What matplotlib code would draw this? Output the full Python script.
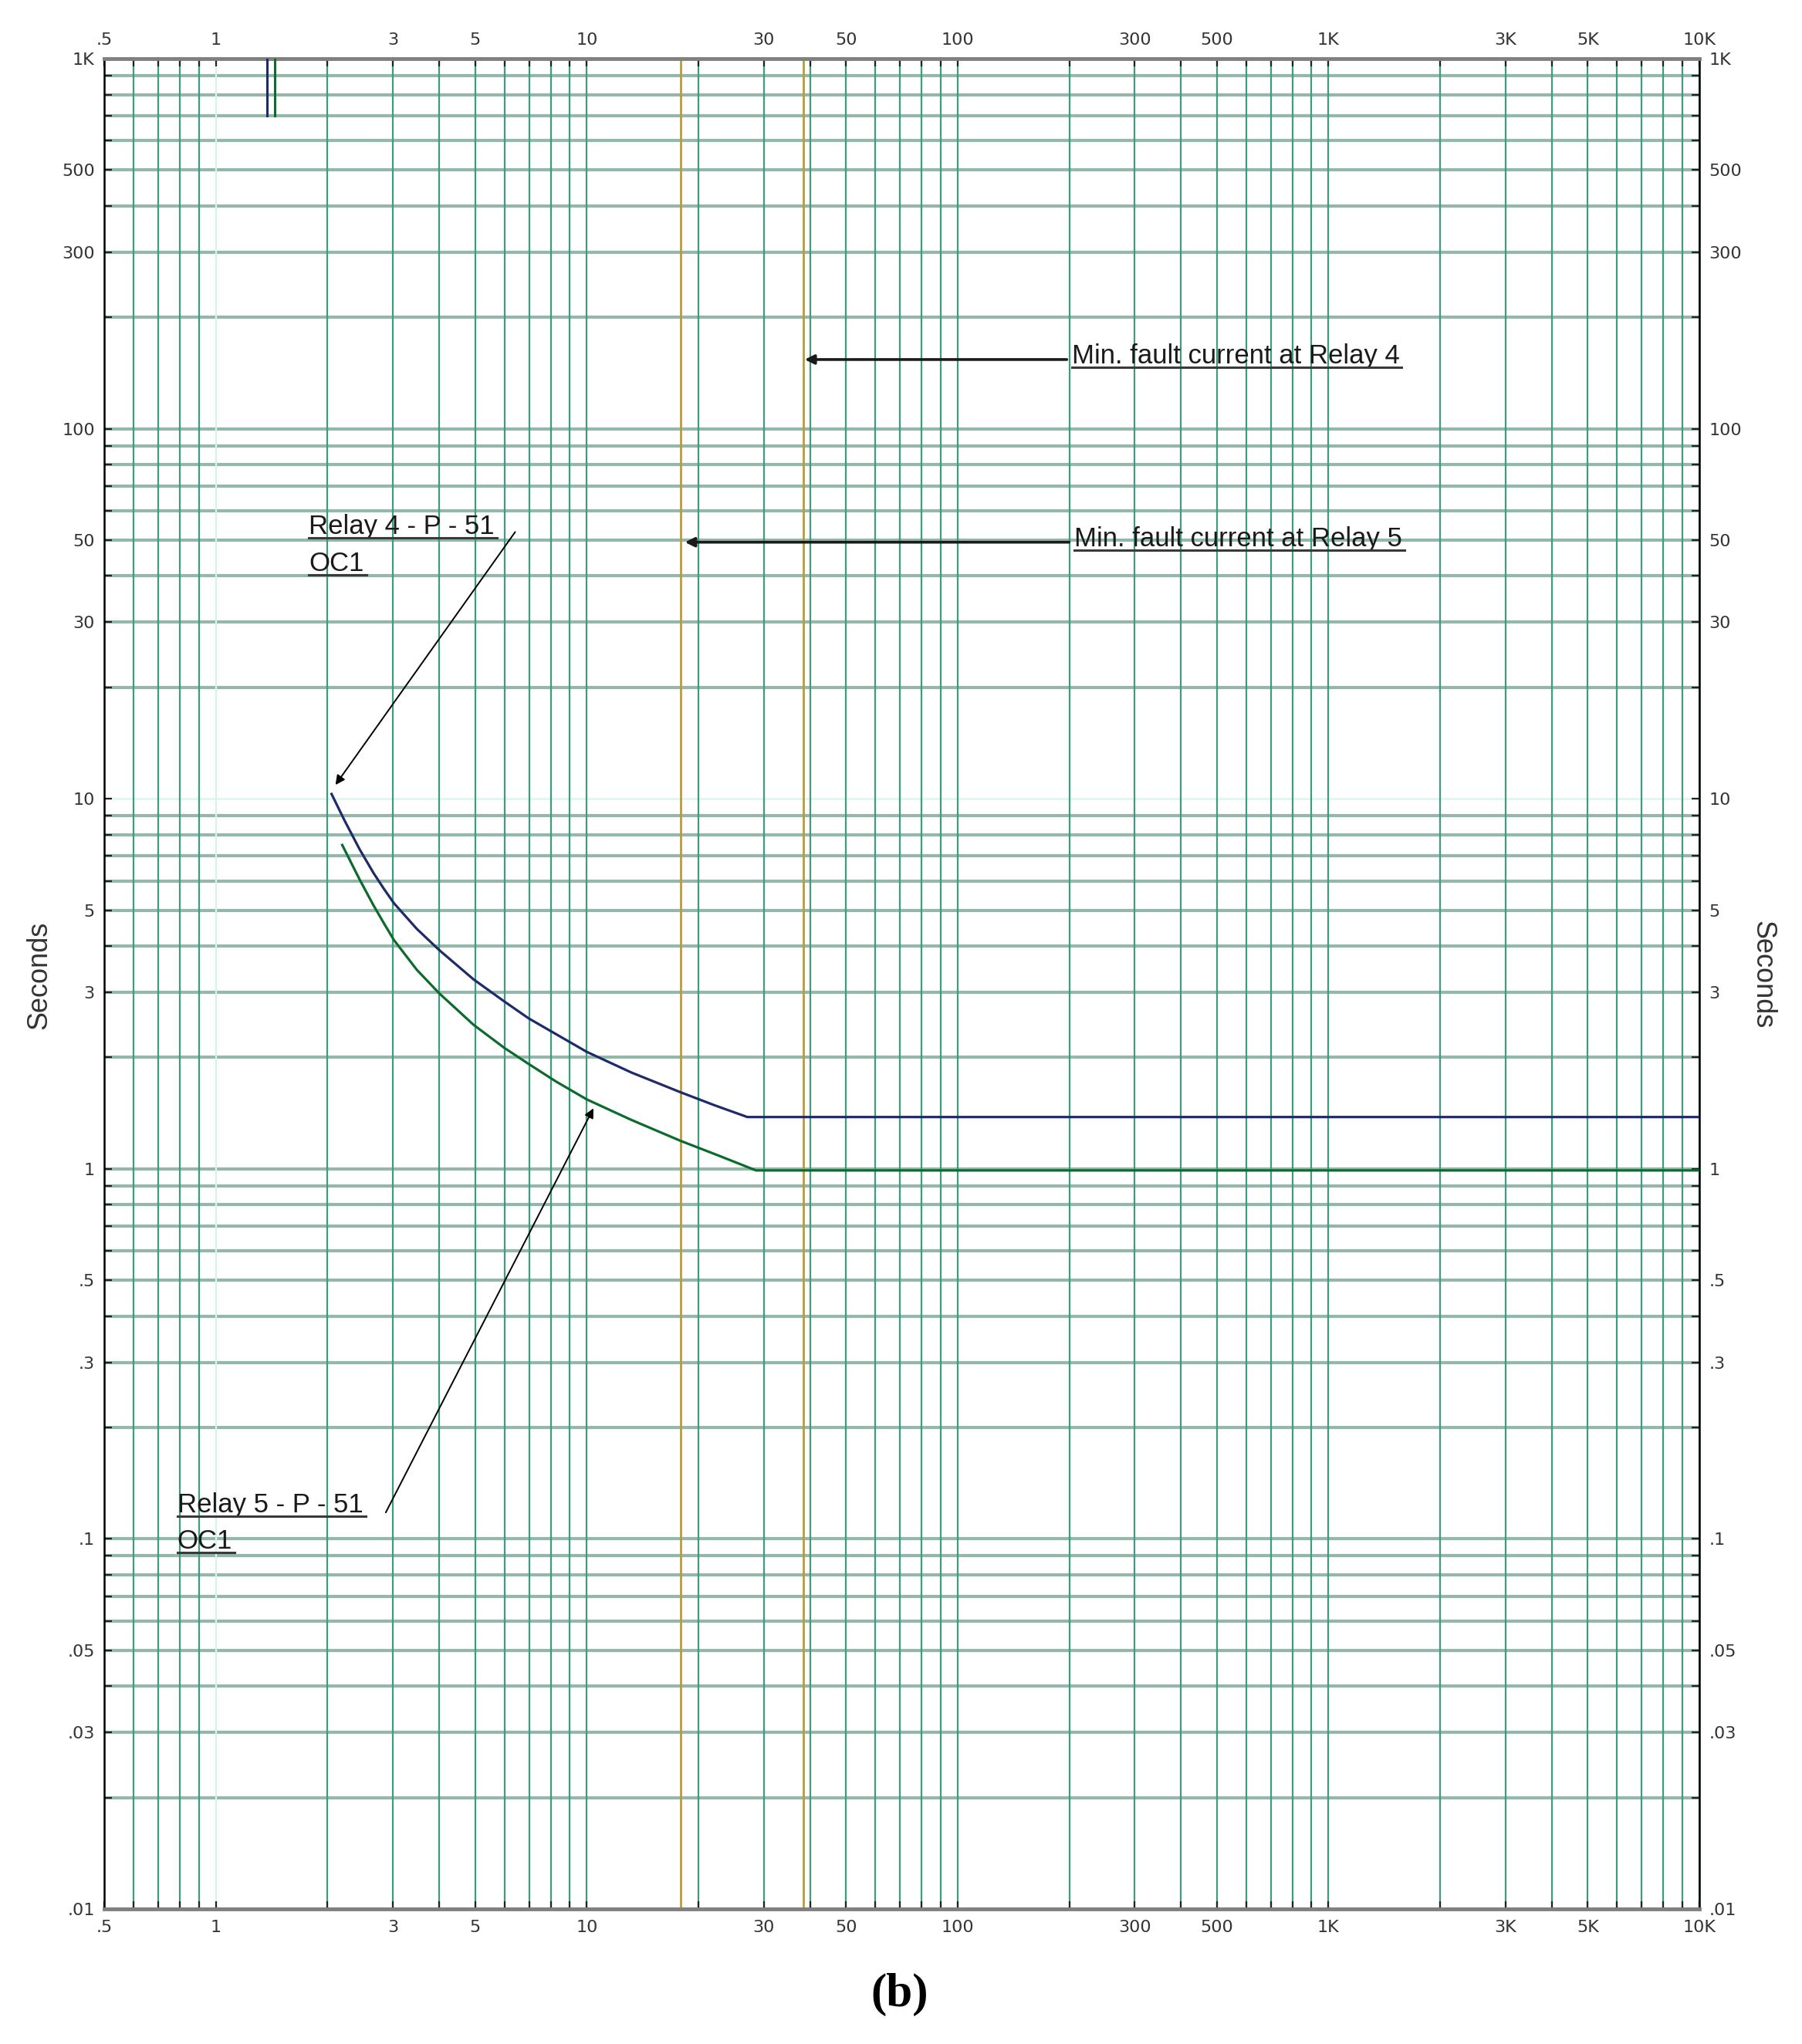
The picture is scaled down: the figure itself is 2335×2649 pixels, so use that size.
#!/usr/bin/env python3
"""
Time-current coordination chart: Relay 4 and Relay 5 (P - 51 OC1) on log-log paper.
"""

import matplotlib
matplotlib.use("Agg")
import matplotlib.pyplot as plt
from matplotlib.lines import Line2D
from matplotlib.transforms import IdentityTransform

# Axis grid positions (log paper)
X_MIN, X_MAX = 0.5, 10000
Y_MIN, Y_MAX = 0.01, 1000

x_labels = {0.5: ".5", 1: "1", 3: "3", 5: "5", 10: "10", 30: "30", 50: "50",
            100: "100", 300: "300", 500: "500", 1000: "1K", 3000: "3K",
            5000: "5K", 10000: "10K"}
y_labels = {0.01: ".01", 0.03: ".03", 0.05: ".05", 0.1: ".1", 0.3: ".3",
            0.5: ".5", 1: "1", 3: "3", 5: "5", 10: "10", 30: "30", 50: "50",
            100: "100", 300: "300", 500: "500", 1000: "1K"}

# Relay curves (current multiple, seconds)
relay4_current = [2.05, 2.22, 2.44, 2.66, 2.84, 3.02, 3.48, 4.0, 4.95, 6.0,
                  6.97, 8.27, 10.0, 13.2, 17.9, 22.1, 27.1, 10000]
relay4_time = [10.3, 8.75, 7.3, 6.3, 5.7, 5.22, 4.45, 3.90, 3.25, 2.83,
               2.55, 2.31, 2.07, 1.82, 1.61, 1.485, 1.38, 1.38]
relay5_current = [2.19, 2.44, 2.66, 2.84, 3.02, 3.48, 4.0, 4.95, 6.0, 6.97,
                  8.27, 10.0, 13.2, 17.9, 22.6, 28.6, 10000]
relay5_time = [7.5, 6.05, 5.15, 4.6, 4.15, 3.45, 2.98, 2.45, 2.12, 1.92,
               1.72, 1.54, 1.355, 1.19, 1.087, 0.99, 0.99]

# short marks at the top of the chart
relay4_mark_x = 1.37
relay5_mark_x = 1.44
mark_time = [700, 1000]

# minimum fault currents
min_fault_relay5 = 17.9
min_fault_relay4 = 38.4

# annotation anchors (x, y) in data units
relay4_label = (1.78, 52.0)
relay4_label2 = (1.78, 41.3)
relay4_arrow = [(6.41, 52.6), (2.10, 10.9)]
relay5_label = (0.787, 0.1178)
relay5_label2 = (0.787, 0.0939)
relay5_arrow = [(2.87, 0.1178), (10.42, 1.457)]
fault4_label = (203.0, 150.0)
fault4_arrow = [(197.0, 153.8), (38.7, 153.8)]
fault5_label = (206.0, 48.1)
fault5_arrow = [(199.8, 49.35), (18.4, 49.35)]


def log_positions(lo, hi):
    out = []
    dec = 0.001
    while dec <= hi:
        for k in range(1, 10):
            v = round(k * dec, 6)
            if lo - 1e-9 <= v <= hi + 1e-9:
                out.append(v)
        dec *= 10
    return out


def main():
    fig = plt.figure(figsize=(23.35, 26.49), dpi=100)
    ax = fig.add_axes([0.0579, 0.0661, 0.8851, 0.9052])
    ax.set_xscale("log")
    ax.set_yscale("log")
    ax.set_xlim(X_MIN, X_MAX)
    ax.set_ylim(Y_MIN, Y_MAX)

    xs = log_positions(X_MIN, X_MAX)
    ys = log_positions(Y_MIN, Y_MAX)

    # grid paper
    for v in xs:
        c = "#d6f2ea" if v == 1 else "#3c9c82"
        ax.axvline(v, color=c, lw=1.6, zorder=1)
    for v in ys:
        c = "#e2f6f0" if v == 10 else "#93b8aa"
        ax.axhline(v, color=c, lw=3.0 if v != 10 else 2.0, zorder=0.9)

    ax.set_xticks(xs)
    ax.set_xticklabels([x_labels.get(v, "") for v in xs])
    ax.set_yticks(ys)
    ax.set_yticklabels([y_labels.get(v, "") for v in ys])
    ax.minorticks_off()
    ax.tick_params(axis="both", which="major", direction="in", length=7,
                   width=1.6, colors="#222222", labelsize=16,
                   top=True, right=True, labeltop=True, labelright=True)
    ax.tick_params(axis="x", pad=10)
    ax.tick_params(axis="y", pad=9)
    narrow = ["Liberation Sans Narrow", "DejaVu Sans"]
    for axis in (ax.xaxis, ax.yaxis):
        for t in axis.get_major_ticks():
            for lab in (t.label1, t.label2):
                lab.set_fontfamily(narrow)
                lab.set_color("#333333")
                lab.set_fontsize(16)

    for side in ("top", "bottom"):
        ax.spines[side].set_color("#808080")
        ax.spines[side].set_linewidth(3.5)
    for side in ("left", "right"):
        ax.spines[side].set_color("black")
        ax.spines[side].set_linewidth(1.8)

    # minimum fault current lines
    for v in (min_fault_relay5, min_fault_relay4):
        ax.axvline(v, color="#bf9a34", lw=2.0, zorder=2)

    # relay curves
    ax.plot(relay4_current, relay4_time, color="#1d2b6b", lw=2.3, zorder=4)
    ax.plot(relay5_current, relay5_time, color="#0b6b2c", lw=2.3, zorder=4)
    ax.plot([relay4_mark_x] * 2, mark_time, color="#1d2b6b", lw=2.2, zorder=4)
    ax.plot([relay5_mark_x] * 2, mark_time, color="#0b6b2c", lw=2.2, zorder=4)

    # annotations
    thin = dict(arrowstyle="-|>", color="black", lw=1.4, mutation_scale=18,
                shrinkA=0, shrinkB=0)
    thick = dict(arrowstyle="-|>", color="#1a1a1a", lw=2.6, mutation_scale=18,
                 shrinkA=0, shrinkB=0)
    for (start, end), props in ((relay4_arrow, thin), (relay5_arrow, thin),
                                (fault4_arrow, thick), (fault5_arrow, thick)):
        ax.annotate("", xy=end, xytext=start, arrowprops=props, zorder=5)

    font = ["Liberation Sans", "DejaVu Sans"]
    texts = []
    for pos, s in ((relay4_label, "Relay 4 - P - 51"), (relay4_label2, "OC1"),
                   (relay5_label, "Relay 5 - P - 51"), (relay5_label2, "OC1"),
                   (fault4_label, "Min. fault current at Relay 4"),
                   (fault5_label, "Min. fault current at Relay 5")):
        t = ax.text(pos[0], pos[1], s, fontsize=25, family=font,
                    color="#1a1a1a", ha="left", va="baseline", zorder=6)
        texts.append(t)

    fig.text(0.022, 0.523, "Seconds", rotation=90, fontsize=26, family=font,
             color="#333333", ha="center", va="center")
    fig.text(0.978, 0.523, "Seconds", rotation=270, fontsize=26, family=font,
             color="#333333", ha="center", va="center")
    fig.text(0.4993, 0.024, "(b)", fontsize=44, family=["Liberation Serif"],
             fontweight="bold", ha="center", va="center", color="black")

    # underline the annotation texts
    fig.canvas.draw()
    renderer = fig.canvas.get_renderer()
    for t in texts:
        bb = t.get_window_extent(renderer)
        _, yb = ax.transData.transform(t.get_position())
        y = yb - 5
        fig.add_artist(Line2D([bb.x0, bb.x1 + 3], [y, y], transform=IdentityTransform(),
                              color="#3a3a3a", lw=2.2, zorder=7))

    fig.savefig("out.png", dpi=100)
    plt.close(fig)


if __name__ == "__main__":
    main()
